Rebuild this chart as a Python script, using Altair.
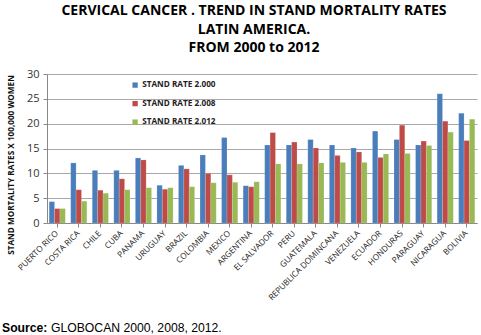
import altair as alt
import pandas as pd

countries = ["PUERTO RICO", "COSTA RICA", "CHILE", "CUBA", "PANAMA", "URUGUAY", "BRAZIL",
             "COLOMBIA", "MEXICO", "ARGENTINA", "EL SALVADOR", "PERU", "GUATEMALA",
             "REPUBLICA DOMINCANA", "VENEZUELA", "ECUADOR", "HONDURAS", "PARAGUAY",
             "NICARAGUA", "BOLIVIA"]
rate_2000 = [4.3, 12.1, 10.6, 10.6, 13.1, 7.6, 11.6, 13.7, 17.2, 7.5, 15.7, 15.7, 16.8,
             15.7, 15.1, 18.5, 16.8, 15.7, 26.0, 22.1]
rate_2008 = [2.9, 6.7, 6.6, 8.9, 12.7, 6.8, 10.9, 10.0, 9.7, 7.3, 18.2, 16.3, 15.1,
             13.6, 14.3, 13.2, 19.7, 16.5, 20.5, 16.6]
rate_2012 = [2.9, 4.4, 6.0, 6.7, 7.1, 7.1, 7.3, 8.1, 8.2, 8.3, 11.9, 11.9, 12.1,
             12.2, 12.2, 13.9, 14.0, 15.6, 18.3, 20.9]
series = ["STAND RATE 2.000", "STAND RATE 2.008", "STAND RATE 2.012"]
colors = ["#4A7EBB", "#BE4B48", "#98B954"]

rows = []
for i, c in enumerate(countries):
    for s, vals in zip(series, [rate_2000, rate_2008, rate_2012]):
        rows.append({"country": c, "series": s, "value": vals[i]})
df = pd.DataFrame(rows)

W, H = 430, 149

bars = alt.Chart(df).mark_bar(stroke="#ffffff", strokeWidth=0.3, strokeOpacity=0.5).encode(
    x=alt.X("country:N", sort=countries, title=None,
            scale=alt.Scale(paddingInner=0.25, paddingOuter=0.1),
            axis=alt.Axis(labelAngle=-45, labelAlign="right", labelBaseline="middle",
                          labelFontSize=8.2, labelFont="Open Sans", labelColor="#222",
                          labelPadding=5, tickColor="#888", domainColor="#888",
                          ticks=True, tickSize=4, labelOverlap=False, labelBound=False)),
    xOffset=alt.XOffset("series:N", sort=series),
    y=alt.Y("value:Q", title="STAND MORTALITY RATES  X 100,000   WOMEN",
            scale=alt.Scale(domain=[0, 30]),
            axis=alt.Axis(values=[0, 5, 10, 15, 20, 25, 30], labelFontSize=11,
                          labelFont="Open Sans", labelColor="#333", tickColor="#888",
                          domainColor="#888", tickSize=4, labelPadding=4,
                          gridColor="#a8a8a8", gridWidth=1.2,
                          titleFont="Open Sans", titleFontSize=8.2, titleFontWeight="bold",
                          titleColor="#111", titlePadding=11, titleY=H / 2 + 16)),
    color=alt.Color("series:N", sort=series,
                    scale=alt.Scale(domain=series, range=colors),
                    legend=alt.Legend(title=None, orient="none", legendX=84, legendY=7,
                                      symbolType="square", symbolSize=28, rowPadding=9.5,
                                      labelFontSize=8.2, labelFont="Open Sans",
                                      labelFontWeight="bold", labelColor="#222",
                                      labelOffset=3, symbolStrokeWidth=0)),
)

src1 = alt.Chart(pd.DataFrame({"t": ["Source:"]})).mark_text(
    align="left", baseline="middle", font="Liberation Sans", fontSize=12.2,
    fontWeight="bold", color="#000"
).encode(text="t:N", x=alt.value(-45), y=alt.value(H + 105))

src2 = alt.Chart(pd.DataFrame({"t": ["GLOBOCAN 2000, 2008, 2012."]})).mark_text(
    align="left", baseline="middle", font="Liberation Sans", fontSize=12.2,
    color="#000"
).encode(text="t:N", x=alt.value(4), y=alt.value(H + 105))

chart = alt.layer(bars, src1, src2).properties(
    width=W, height=H,
    autosize=alt.AutoSizeParams(type="none"),
    padding={"left": 47, "top": 74, "right": 4, "bottom": 112},
    title=alt.Title(["CERVICAL CANCER . TREND IN STAND MORTALITY RATES",
                     "LATIN AMERICA.", "FROM 2000 to 2012"],
                    font="Open Sans", fontSize=14, fontWeight="bold", color="#000",
                    lineHeight=18.5, anchor="middle", offset=13, dx=-8),
).configure_view(stroke=None).configure_axisX(grid=False)

chart.save("out.html", embed_options={"renderer": "svg", "actions": False})
